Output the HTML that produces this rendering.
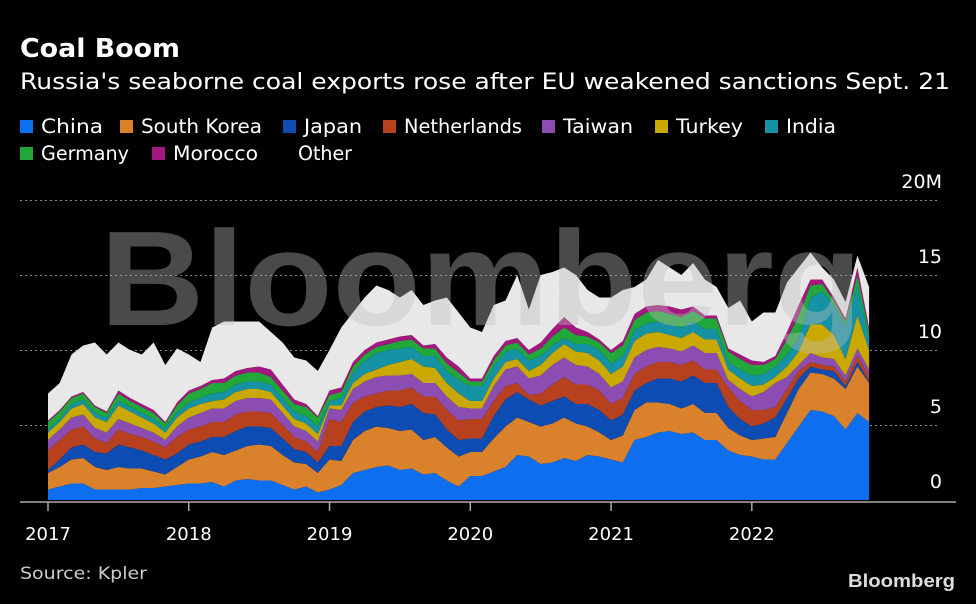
<!DOCTYPE html>
<html><head><meta charset="utf-8"><style>
html,body{margin:0;padding:0;background:#000;}
body{width:976px;height:600px;overflow:hidden;font-family:"DejaVu Sans","Liberation Sans",sans-serif;color:#fff;}
svg text{font-family:"DejaVu Sans","Liberation Sans",sans-serif;}
</style></head><body>
<svg id="chart" width="976" height="600" viewBox="0 0 976 600" xmlns="http://www.w3.org/2000/svg">
<rect x="0" y="0" width="976" height="600" fill="#000"/>
<text x="20" y="57" font-size="26" font-weight="bold" fill="#fff" textLength="160" lengthAdjust="spacingAndGlyphs">Coal Boom</text>
<text x="20" y="89" font-size="22" fill="#fff" textLength="930" lengthAdjust="spacingAndGlyphs">Russia's seaborne coal exports rose after EU weakened sanctions Sept. 21</text>
<g id="legend"></g>
<g id="grid"></g>
<g id="areas"></g>
<text x="100" y="325" font-size="135" font-weight="bold" fill="rgb(190,190,190)" fill-opacity="0.39" textLength="762" lengthAdjust="spacingAndGlyphs" style="font-family:'Liberation Sans',sans-serif">Bloomberg</text>
<g id="yaxis"></g>
<g id="xaxis"></g>
<text x="20" y="579" font-size="17" fill="#ccc" textLength="127" lengthAdjust="spacingAndGlyphs">Source: Kpler</text>
<text x="848" y="587" font-size="18" font-weight="bold" fill="#ddd" textLength="107" lengthAdjust="spacingAndGlyphs" style="font-family:'Liberation Sans',sans-serif">Bloomberg</text>
</svg>
<script>
const seriesNames = ["China","South Korea","Japan","Netherlands","Taiwan","Turkey","India","Germany","Morocco","Other"];
const seriesColors = ["#0d6ef0","#d9822b","#0c4cb3","#b7411e","#8c4db3","#c9a800","#1592a3","#22a83a","#a3177f","#e8e8e8"];
const china = [.7,.9,1.1,1.1,.7,.7,.7,.7,.8,.8,.9,1.0,1.1,1.1,1.2,.9,1.3,1.4,1.3,1.3,1.0,.7,.9,.5,.7,1.0,1.8,2.0,2.2,2.3,2.0,2.1,1.7,1.8,1.3,.9,1.6,1.6,1.9,2.2,3.0,2.9,2.4,2.5,2.8,2.6,3.0,2.9,2.7,2.5,4.0,4.2,4.5,4.6,4.4,4.5,4.0,4.0,3.3,3.0,2.9,2.7,2.7,3.8,4.9,6.0,5.9,5.6,4.7,5.8,5.2];
const southKorea = [1.1,1.3,1.6,1.7,1.5,1.3,1.5,1.4,1.3,1.1,.8,1.2,1.6,1.8,2.0,2.1,2.0,2.2,2.4,2.3,2.0,1.8,1.5,1.3,2.0,1.6,2.2,2.6,2.7,2.5,2.6,2.6,2.3,2.4,2.2,2.0,1.6,1.6,2.2,2.7,2.5,2.3,2.5,2.6,2.7,2.5,1.9,1.6,1.3,1.8,2.0,2.3,2.0,1.8,1.7,1.9,1.8,1.8,1.5,1.3,1.1,1.4,1.5,2.0,2.5,2.5,2.5,2.5,2.7,3.1,2.6];
const japan = [.2,.5,.8,.9,1.0,1.1,1.5,1.4,1.2,1.1,1.0,.9,1.0,1.0,1.0,1.2,1.3,1.3,1.2,1.2,1.1,.9,.8,.7,.9,1.0,1.2,1.3,1.3,1.5,1.6,1.7,1.8,1.5,1.2,1.1,.9,.9,1.5,1.8,1.7,1.5,1.4,1.5,1.4,1.3,1.5,1.5,1.3,1.4,1.3,1.3,1.6,1.7,1.8,1.9,2.0,2.0,1.4,1.1,.9,1.0,1.3,1.0,.7,.4,.3,.5,.2,.3,.1];
const netherlands = [1.3,1.3,1.2,1.2,.9,.7,1.0,.9,.9,.9,.8,1.1,1.0,1.0,1.0,1.0,1.1,1.0,1.0,1.0,.9,.8,.7,.7,1.8,1.6,1.3,1.0,.9,1.0,1.1,1.1,1.1,1.2,1.3,1.3,1.3,1.3,1.0,.9,.6,.3,.8,1.1,1.3,1.3,1.3,1.3,1.1,1.1,1.1,1.1,1.1,1.1,1.1,1.0,.9,.9,1.3,1.2,1.1,.9,.7,.6,.5,.3,.3,.3,.3,.4,.4];
const taiwan = [.7,.7,.8,.8,.7,.7,.7,.7,.6,.6,.5,.7,.8,.9,.9,.9,.9,.9,.9,.9,.8,.7,.7,.7,.7,.8,.9,1.0,1.1,1.0,1.0,.9,.9,.9,.9,.9,.7,.7,1.0,1.1,1.1,1.1,1.2,1.3,1.3,1.3,1.2,1.1,1.1,1.1,1.1,1.1,1.0,.9,.9,1.0,1.1,1.1,.5,.8,.9,1.2,1.6,.8,.4,.6,.5,.5,.4,.5,.4];
const turkey = [.5,.5,.6,.7,.7,.7,.9,.8,.7,.6,.5,.6,.6,.6,.5,.6,.6,.6,.6,.5,.5,.5,.5,.5,.2,.3,.4,.5,.5,.7,.9,1.0,1.1,1.0,.9,.9,.5,.5,.5,.5,.5,.5,.7,.8,.9,.9,.9,.9,.9,1.0,1.1,1.1,1.0,.9,.9,.9,.9,.9,.7,.7,.7,.5,.4,.7,.9,1.9,2.2,1.6,1.1,2.2,1.3];
const india = [.2,.2,.3,.3,.3,.3,.3,.3,.3,.3,.3,.3,.4,.4,.5,.5,.5,.5,.5,.5,.5,.5,.5,.5,.3,.5,.7,.9,1.1,1.0,.9,.8,.7,.8,.8,.9,1.0,1.0,.8,.7,.7,.7,.6,.5,.4,.5,.6,.7,.7,.7,.7,.7,.7,.7,.7,.7,.7,.7,.5,.6,.7,.7,.7,.8,.9,1.8,2.2,2.0,2.2,2.0,.7];
const germany = [.5,.5,.4,.4,.4,.3,.5,.4,.4,.4,.3,.5,.6,.6,.7,.6,.6,.6,.6,.5,.5,.5,.6,.6,.4,.4,.4,.4,.4,.4,.5,.5,.5,.5,.5,.5,.3,.3,.4,.4,.4,.4,.5,.6,.7,.6,.5,.5,.7,.7,.7,.7,.7,.7,.7,.7,.7,.7,.7,.7,.7,.6,.5,1.0,1.5,.8,.5,.3,.3,.7,.5];
const morocco = [.1,.1,.1,.1,.1,.1,.2,.2,.2,.2,.1,.2,.2,.2,.2,.3,.3,.3,.4,.5,.4,.3,.2,.1,.3,.3,.3,.3,.3,.3,.3,.3,.2,.3,.4,.4,.2,.2,.3,.3,.3,.3,.4,.5,.7,.5,.3,.2,.2,.3,.4,.4,.4,.5,.5,.3,.2,.2,.2,.3,.3,.2,.2,.5,.7,.4,.3,.2,.2,.5,.3];
const totalExports = [7.1,7.8,9.7,10.3,10.5,9.7,10.5,10,9.7,10.5,9.0,10.1,9.7,9.2,11.5,11.9,11.9,11.9,11.9,11.2,10.5,9.5,9.3,8.6,10,11.5,12.5,13.5,14.3,14,13.5,14,13,13.3,13.5,12.5,11.5,11.2,13,13.3,15,12.7,15,15.2,15.5,15,14,13.5,13.5,14,14.2,14.7,16,15.5,15,15.8,14.7,14.2,12.8,13.3,11.9,12.5,12.5,14.5,15.5,16.5,15.5,14.7,13.2,16.3,14.2];
const yTicks = [0,5,10,15,20];
const yTickLabels = ["0","5","10","15","20M"];
const xTickYears = [2017,2018,2019,2020,2021,2022];

const NS = "http://www.w3.org/2000/svg";
const x0 = 48, monthW = 11.73, y0 = 500, pxPerM = 15;
function xScale(i){ return x0 + i*monthW; }
function yScale(v){ return y0 - v*pxPerM; }
function mk(tag, attrs, parent){ const e=document.createElementNS(NS,tag); for(const k in attrs) e.setAttribute(k,attrs[k]); parent.appendChild(e); return e; }

// legend
const legend = document.getElementById('legend');
const legPos = [[20,127,62],[120,127,121],[283,127,58],[383,127,118],[542,127,70],[655,127,67],[765,127,50],[20,154,88],[152,154,85],[277,154,54]];
seriesNames.forEach((n,k)=>{
  const g = mk('g',{},legend);
  
  
  const [lx,ly,tw] = legPos[k];
  if(k<9) mk('rect',{x:lx,y:ly-7,width:13,height:13,fill:seriesColors[k]},g);
  const t = mk('text',{x:lx+21,y:ly+6,'font-size':19.5,fill:'#fff',textLength:tw,lengthAdjust:'spacingAndGlyphs'},g);
  t.textContent = n;
});

// grid & y labels
const grid = document.getElementById('grid'), yaxis = document.getElementById('yaxis');
yTicks.forEach((v,k)=>{
  if(v>0){
    const l = mk('line',{x1:20,x2:940,y1:yScale(v)+0.5,y2:yScale(v)+0.5,stroke:'#888','stroke-width':1,'stroke-dasharray':'2,3'},grid);
    
    
  }
  const t = mk('text',{x:942,y:yScale(v)-12,'font-size':19,fill:'#fff','text-anchor':'end'},yaxis);
  
  
  t.textContent = yTickLabels[k];
});

// stacked areas
const layers = [china,southKorea,japan,netherlands,taiwan,turkey,india,germany,morocco];
const n = china.length;
let base = new Array(n).fill(0);
const areas = document.getElementById('areas');
for(let k=0;k<10;k++){
  const top = [];
  for(let i=0;i<n;i++){
    if(k<9) top.push(base[i]+layers[k][i]);
    else top.push(Math.max(base[i], totalExports[i]));
  }
  let d = '';
  for(let i=0;i<n;i++) d += (i?'L':'M') + xScale(i).toFixed(1)+','+yScale(top[i]).toFixed(1);
  for(let i=n-1;i>=0;i--) d += 'L' + xScale(i).toFixed(1)+','+yScale(base[i]).toFixed(1);
  d += 'Z';
  const p = mk('path',{d:d,fill:seriesColors[k]},areas);
  
  
  base = top;
}

// x axis
const xaxis = document.getElementById('xaxis');
const ax = mk('line',{x1:20,x2:956,y1:502,y2:502,stroke:'#aaa','stroke-width':1.5},xaxis);


xTickYears.forEach(yr=>{
  const xx = xScale((yr-2017)*12);
  const tk = mk('line',{x1:xx,x2:xx,y1:502,y2:511,stroke:'#aaa','stroke-width':1.5},xaxis);
  
  
  const t = mk('text',{x:xx,y:540,'font-size':18,fill:'#fff','text-anchor':'middle'},xaxis);
  
  
  t.textContent = yr;
});
</script>
</body></html>
